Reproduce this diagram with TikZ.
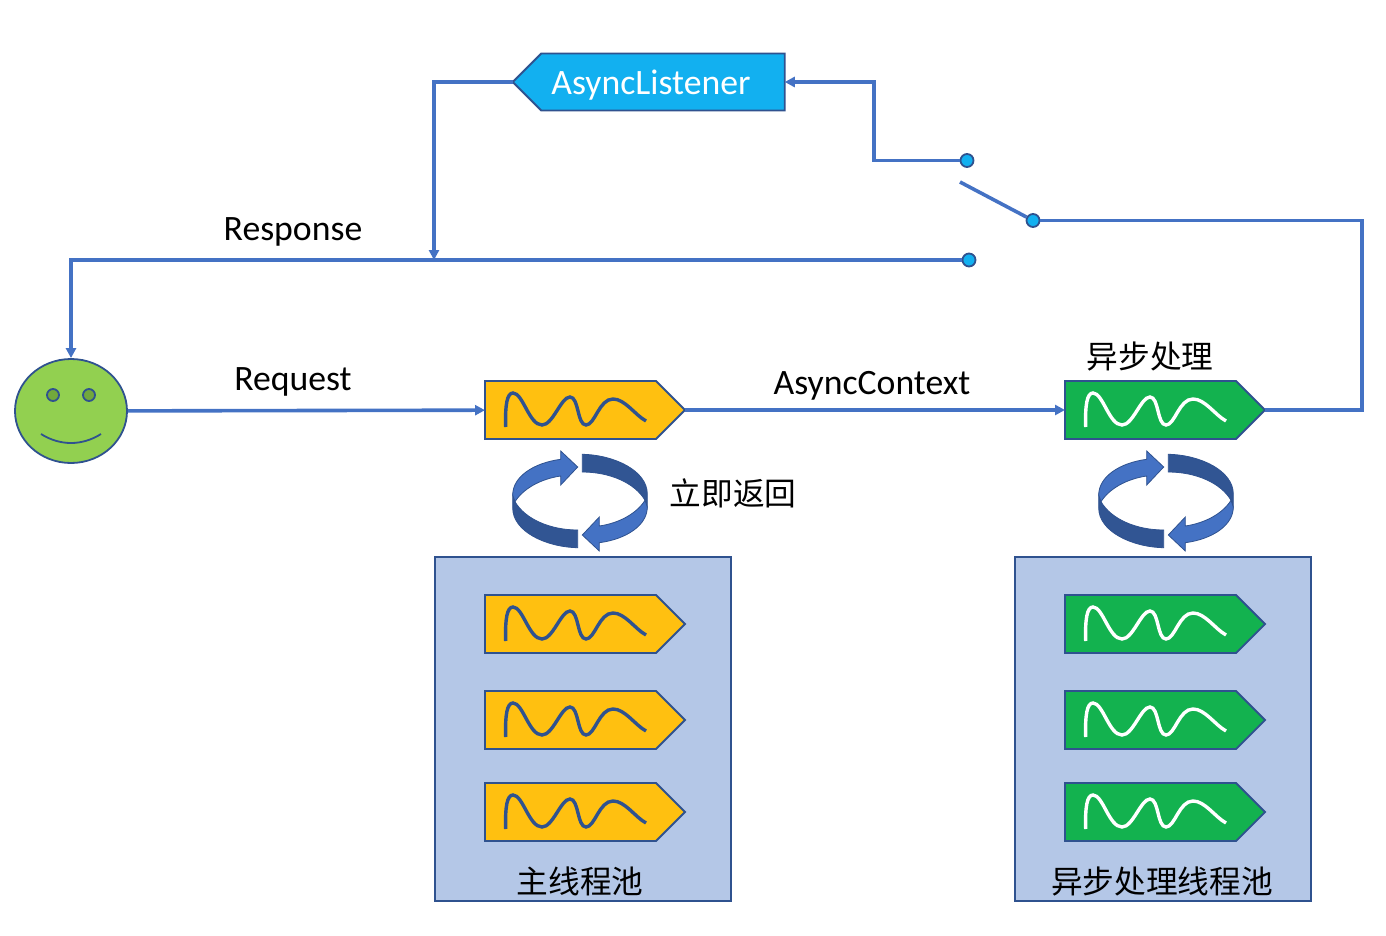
\documentclass[tikz,border=0pt]{standalone}
\usepackage{fontspec}
\setmainfont{Carlito}
\newfontfamily\cjk{Noto Sans CJK SC}
\usetikzlibrary{arrows.meta,shapes.geometric,shapes.symbols}

\definecolor{wireblue}{HTML}{4472C4}
\definecolor{edgeblue}{HTML}{2F528F}
\definecolor{threadorange}{HTML}{FFC010}
\definecolor{threadgreen}{HTML}{13B24F}
\definecolor{skyblue}{HTML}{12B0F0}
\definecolor{poolblue}{HTML}{B4C7E7}
\definecolor{facegreen}{HTML}{92D050}
\definecolor{eyegreen}{HTML}{72A83C}

\tikzset{
    wire/.style = {draw = wireblue, line width = 3.6pt},
    thread/.style = {signal, signal to = east, signal pointer angle = 90, draw = edgeblue, line width = 1.8pt,
        minimum width = 200pt, minimum height = 58pt, inner sep = 0pt, outer sep = 0pt},
    mainthread/.style = {thread, fill = threadorange},
    asyncthread/.style = {thread, fill = threadgreen},
    pool/.style = {draw = edgeblue, fill = poolblue, line width = 1.8pt, minimum width = 296pt, minimum height = 344pt},
    switchdot/.style = {circle, draw = edgeblue, fill = skyblue, line width = 1.8pt, minimum size = 13pt, inner sep = 0pt},
    label/.style = {font = \fontsize{35.7}{36}\selectfont},
    cjklabel/.style = {font = \cjk\fontsize{31.7}{32}\selectfont},
    cycle/.pic = {
        \foreach \ang in {0, 180} {
            \begin{scope}[rotate = \ang]
                \fill[edgeblue!92!wireblue, draw = edgeblue, line width = 0.8pt] (-2.3, 29) -- (-2.3, 46.7)
                    .. controls (-35, 46) and (-67.3, 30) .. (-67.3, 7) -- (-67.3, -6) -- (-65, 0.7)
                    .. controls (-55, 18) and (-30, 29) .. cycle;
                \fill[wireblue, draw = edgeblue, line width = 0.8pt] (-2.3, -34) -- (-19.3, -50) -- (-19.3, -41.7)
                    .. controls (-47, -38) and (-67.3, -24) .. (-67.3, -6) -- (-65, 0.7)
                    .. controls (-57, -12) and (-40, -22) .. (-19.3, -25) -- (-19.3, -16) -- cycle;
            \end{scope}
        }
    }
}

\newcommand{\threadwave}[2]{
    \draw[#2, line width = 3.4pt, shift = {(#1.west)}] (20.7, 17) .. controls (20, -5) and (22, -17) .. (28, -17)
        .. controls (38, -17) and (44, 15) .. (57, 15) .. controls (68, 15) and (76, -13) .. (85, -13)
        .. controls (94, -13) and (92, 15) .. (101, 15) .. controls (110, 15) and (114, -11) .. (128, -11)
        .. controls (140, -11) and (150, 5) .. (161, 11);
}

\begin{document}
\begin{tikzpicture}[x = 1pt, y = -1pt, > = {Triangle[length = 10pt, width = 10pt]}]
    \useasboundingbox (0, 0) rectangle (1386, 936);

    \node[pool] (mainpool) at (583, 729) {};
    \node[pool] (asyncpool) at (1163, 729) {};

    \node[mainthread] (mainentry) at (570.5, 410) {};
    \node[asyncthread] (asyncentry) at (1150.5, 410) {};
    \foreach \i/\y in {1/624, 2/720, 3/812} {
        \node[mainthread] (mainworker\i) at (570.5, \y) {};
        \node[asyncthread] (asyncworker\i) at (1150.5, \y) {};
        \threadwave{mainworker\i}{edgeblue}
        \threadwave{asyncworker\i}{white}
    }
    \threadwave{mainentry}{edgeblue}
    \threadwave{asyncentry}{white}

    \pic at (580, 501) {cycle};
    \pic at (1166, 501) {cycle};

    \node[signal, signal to = west, signal pointer angle = 90, draw = edgeblue, fill = skyblue, line width = 1.8pt,
        minimum width = 272pt, minimum height = 57pt, inner sep = 0pt, outer sep = 0pt] (listener) at (663, 82) {};
    \node[label, text = white] (listenerlabel) at (651, 85) {AsyncListener};

    \node[ellipse, draw = edgeblue, fill = facegreen, line width = 1.8pt, minimum width = 112pt, minimum height = 104pt, inner sep = 0pt] (person) at (71, 411) {};
    \node[circle, draw = edgeblue, fill = eyegreen, line width = 1.8pt, minimum size = 12pt, inner sep = 0pt] (lefteye) at (53, 395) {};
    \node[circle, draw = edgeblue, fill = eyegreen, line width = 1.8pt, minimum size = 12pt, inner sep = 0pt] (righteye) at (89, 395) {};
    \coordinate (smileleft) at (41, 434);
    \coordinate (smileright) at (101, 434);
    \draw[edgeblue, line width = 1.8pt] (smileleft) .. controls (60, 446) and (82, 446) .. (smileright);

    \node[switchdot] (dottop) at (967, 160.5) {};
    \node[switchdot] (dotpivot) at (1033, 220.5) {};
    \node[switchdot] (dotbottom) at (969, 260) {};

    \coordinate (switchend) at (960, 182);
    \coordinate (bendtop) at (874, 82);
    \coordinate (bendright) at (1362, 220.5);
    \coordinate (tee) at (434, 260);

    \draw[wire, ->] (person) -- (mainentry);
    \draw[wire, ->] (mainentry.east) -- (asyncentry.west);
    \draw[wire] (asyncentry.east) -| (bendright) -- (dotpivot);
    \draw[wire] (switchend) -- (dotpivot);
    \draw[wire, ->] (dottop) -| (bendtop) -- (listener.east);
    \draw[wire, ->] (listener.west) -| (tee);
    \draw[wire, ->] (dotbottom) -| (person.north);

    \node[label] (responselabel) at (293, 232) {Response};
    \node[label] (requestlabel) at (293, 382) {Request};
    \node[label] (contextlabel) at (872, 386) {AsyncContext};
    \node[cjklabel] (handlelabel) at (1150, 356) {异步处理};
    \node[cjklabel] (returnlabel) at (733, 493) {立即返回};
    \node[cjklabel] (mainpoollabel) at (580, 881) {主线程池};
    \node[cjklabel] (asyncpoollabel) at (1162, 881) {异步处理线程池};
\end{tikzpicture}
\end{document}
